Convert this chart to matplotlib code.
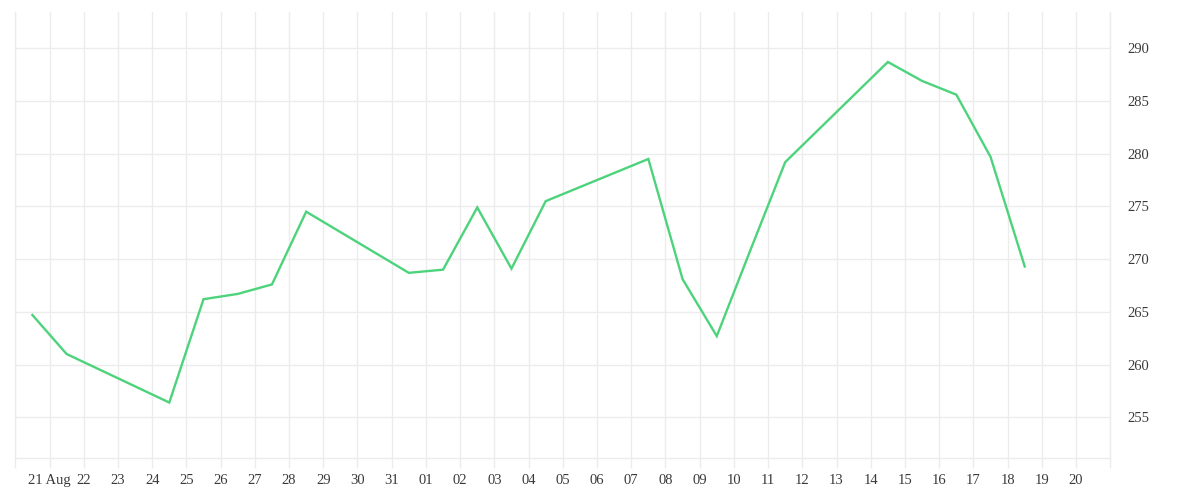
import matplotlib
matplotlib.use("Agg")
import matplotlib.pyplot as plt
import matplotlib.dates as mdates
import numpy as np
import datetime as dt

# ---- data ----
dates = ['2020-08-20', '2020-08-21', '2020-08-24', '2020-08-25', '2020-08-26',
         '2020-08-27', '2020-08-28', '2020-08-31', '2020-09-01', '2020-09-02',
         '2020-09-03', '2020-09-04', '2020-09-07', '2020-09-08', '2020-09-09',
         '2020-09-10', '2020-09-11', '2020-09-14', '2020-09-15', '2020-09-16',
         '2020-09-17', '2020-09-18']
values = [264.7, 261.0, 256.4, 266.2, 266.7, 267.6, 274.5, 268.7, 269.0, 274.9,
          269.1, 275.5, 279.5, 268.1, 262.7, 271.0, 279.2, 288.7, 286.9, 285.6,
          279.7, 269.3]
y_ticks = [255, 260, 265, 270, 275, 280, 285, 290]
x_start = '2020-08-20'
x_end = '2020-09-21'

# ---- style ----
plt.rcParams['font.family'] = ['Liberation Serif', 'DejaVu Serif']
line_color = '#4cd37b'
grid_color = '#ececec'
text_color = '#3a3a3a'

fig = plt.figure(figsize=(12, 5), dpi=100)
ax = fig.add_axes([15.3 / 1200, 41.7 / 500, (1110.3 - 15.3) / 1200, (458.3 - 12.3) / 500])

x = [dt.datetime.strptime(d, '%Y-%m-%d') + dt.timedelta(hours=12) for d in dates]
ax.plot(x, values, color=line_color, linewidth=1.7, solid_joinstyle='miter')

x0 = dt.datetime.strptime(x_start, '%Y-%m-%d')
x1 = dt.datetime.strptime(x_end, '%Y-%m-%d')
ax.set_xlim(x0, x1)
ax.set_ylim(251.11, 293.41)

ax.xaxis.set_major_locator(mdates.DayLocator())

def fmt(val, pos):
    d = mdates.num2date(val).replace(tzinfo=None)
    if d <= x0 or d >= x1:
        return ''
    if d.day == 21 and d.month == 8:
        return '21 Aug'
    return d.strftime('%d')

ax.xaxis.set_major_formatter(plt.FuncFormatter(fmt))
ax.set_yticks(y_ticks)
ax.yaxis.tick_right()

ax.grid(True, color=grid_color, linewidth=1)
ax.set_axisbelow(True)
ax.spines['top'].set_visible(False)
for s in ['bottom', 'left', 'right']:
    ax.spines[s].set_color(grid_color)
    ax.spines[s].set_linewidth(1)

ax.tick_params(axis='x', colors=grid_color, length=7.2, width=1, pad=4,
               labelcolor=text_color, labelsize=10.5)
ax.tick_params(axis='y', length=0, pad=12.5, labelcolor=text_color, labelsize=10.5)

fig.savefig('out.png', dpi=100, facecolor='white')
